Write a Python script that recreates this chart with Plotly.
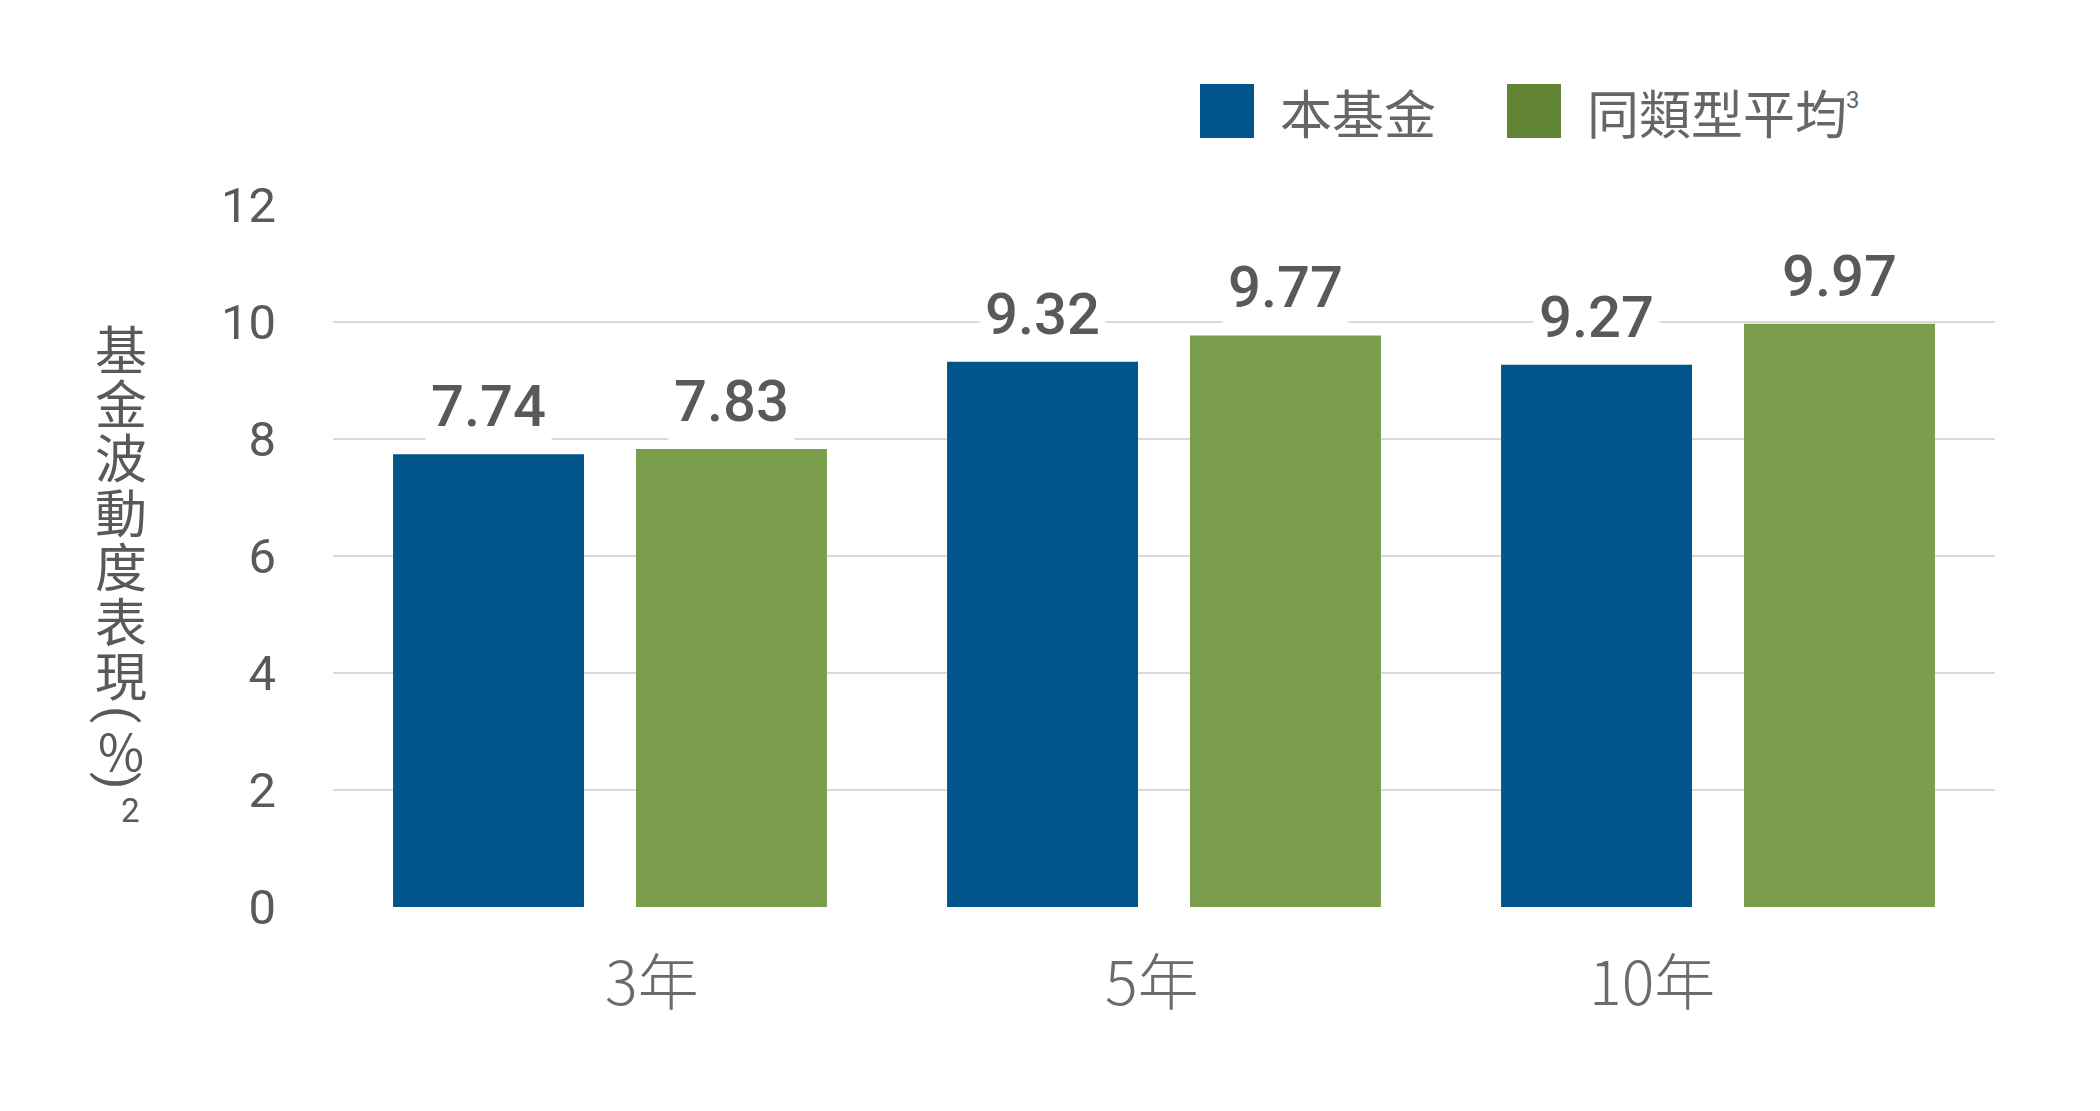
import plotly.graph_objects as go

# data
categories = ["3年", "5年", "10年"]
fund = [7.74, 9.32, 9.27]
peer = [7.83, 9.77, 9.97]
series_names = ["本基金", "同類型平均"]
y_ticks = [0, 2, 4, 6, 8, 10, 12]
y_title_chars = ["基", "金", "波", "動", "度", "表", "現"]

BLUE = "#01558a"
GREEN = "#7a9e4b"
GREEN_KEY = "#618535"
TXT = "#595959"

W, H = 2100, 1111
OFF = 8  # page body margin, the figure sits 8px right and down
L, T = 333 - OFF, 205 - OFF
pw, ph = 1662, 702
R, B = W - L - pw, H - T - ph
bargap, bargroupgap = 0.123, 0.214


def px(x):
    # reference pixel -> paper x
    return (x - OFF - L) / pw


def py(y):
    # reference pixel -> paper y
    return (T + ph - (y - OFF)) / ph


fig = go.Figure()
fig.add_trace(go.Bar(x=categories, y=fund, name=series_names[0],
                     marker=dict(color=BLUE, line=dict(width=0))))
fig.add_trace(go.Bar(x=categories, y=peer, name=series_names[1],
                     marker=dict(color=GREEN, line=dict(width=0))))

# value labels with white boxes (they cut the gridlines like the original)
off = (1 - bargap) / 4
for i, (a, b) in enumerate(zip(fund, peer)):
    for dx, v in ((-off, a), (off, b)):
        fig.add_annotation(x=i + dx, y=v, xref="x", yref="y", text=f"{v:.2f}",
                           showarrow=False, yanchor="bottom", yshift=8,
                           bgcolor="white", borderpad=5,
                           font=dict(family="Roboto", size=58, color=TXT, weight=500))

cjk = "Noto Sans CJK TC"

# category labels: in the original they are spaced a bit tighter than the bars
for i, cat in enumerate(categories):
    fig.add_annotation(x=0.076 + 0.902 * i, y=py(978), xref="x", yref="paper",
                       text=cat, showarrow=False, xanchor="center", yanchor="middle",
                       font=dict(family=cjk, size=61, color="#6b6b6b", weight=300))

# vertical y-axis title, one character per line
for k, ch in enumerate(y_title_chars):
    fig.add_annotation(x=px(121), y=py(347 + 54.4 * k), xref="paper", yref="paper",
                       text=ch, showarrow=False, xanchor="center", yanchor="middle",
                       font=dict(family=cjk, size=52, color=TXT))
fig.add_annotation(x=px(118), y=py(714), xref="paper", yref="paper", text="(",
                   textangle=90, showarrow=False, xanchor="center", yanchor="middle",
                   font=dict(family="Roboto", size=50, color=TXT))
fig.add_annotation(x=px(121), y=py(749), xref="paper", yref="paper", text="%",
                   showarrow=False, xanchor="center", yanchor="middle",
                   font=dict(family=cjk, size=50, color=TXT))
fig.add_annotation(x=px(118), y=py(780), xref="paper", yref="paper", text=")",
                   textangle=90, showarrow=False, xanchor="center", yanchor="middle",
                   font=dict(family="Roboto", size=50, color=TXT))
fig.add_annotation(x=px(130), y=py(810), xref="paper", yref="paper", text="2",
                   showarrow=False, xanchor="center", yanchor="middle",
                   font=dict(family="Roboto", size=33, color=TXT))

# hand-made legend with big square keys
keys = [(1200, BLUE, series_names[0]), (1507, GREEN_KEY, series_names[1])]
for x0, col, name in keys:
    fig.add_shape(type="rect", xref="paper", yref="paper",
                  x0=px(x0), x1=px(x0 + 54), y0=py(138), y1=py(84),
                  fillcolor=col, line=dict(width=0))
    fig.add_annotation(x=px(x0 + 78), y=py(111), xref="paper", yref="paper",
                       text=name, showarrow=False, xanchor="left", yanchor="middle",
                       font=dict(family=cjk, size=52, color="#666666"))
fig.add_annotation(x=px(1844), y=py(100), xref="paper", yref="paper", text="3",
                   showarrow=False, xanchor="left", yanchor="middle",
                   font=dict(family="Roboto", size=24, color="#666666"))

fig.update_layout(
    width=W, height=H,
    margin=dict(l=L, r=R, t=T, b=B),
    barmode="group", bargap=bargap, bargroupgap=bargroupgap,
    showlegend=False,
    plot_bgcolor="white", paper_bgcolor="white",
    font=dict(family="Roboto, " + cjk, color=TXT),
)
fig.update_yaxes(range=[0, 12], tickvals=y_ticks, showgrid=True,
                 gridcolor="#d9d9d9", gridwidth=1.5, zeroline=False, showline=False,
                 tickfont=dict(family="Roboto", size=49, color=TXT),
                 ticklabelstandoff=56)
fig.update_xaxes(showgrid=False, showline=False, zeroline=False,
                 showticklabels=False)

fig.write_html("out.html")
